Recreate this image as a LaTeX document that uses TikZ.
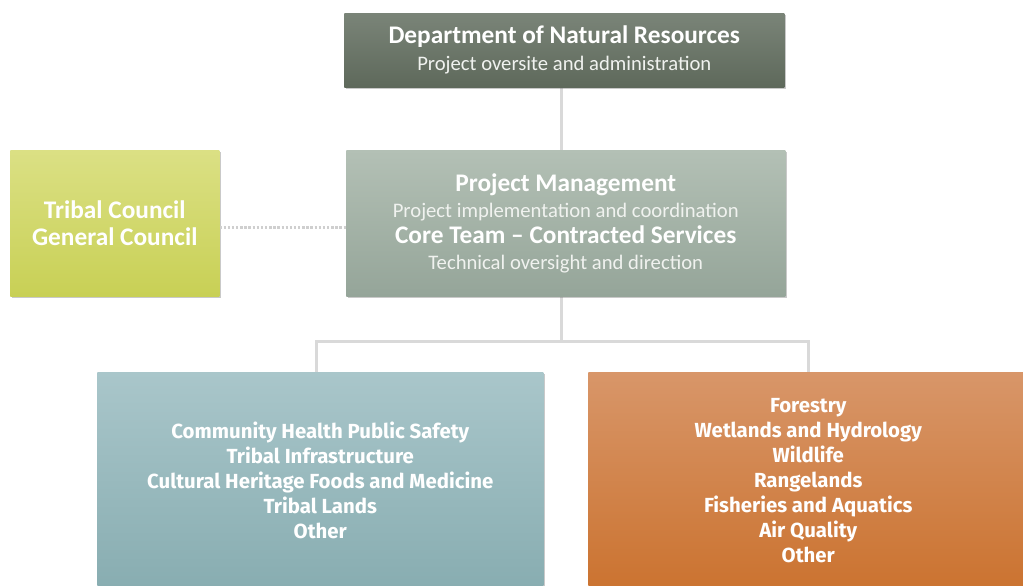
\documentclass[tikz,border=0pt]{standalone}
\usepackage{fontspec}
\setmainfont{Carlito}
\newfontfamily\firaf{Fira Sans}
\usetikzlibrary{shadows}
\definecolor{dnrTop}{HTML}{7A8478}
\definecolor{dnrBot}{HTML}{5E695B}
\definecolor{pmTop}{HTML}{B3C0B5}
\definecolor{pmBot}{HTML}{95A599}
\definecolor{tcTop}{HTML}{DBE084}
\definecolor{tcBot}{HTML}{C8D055}
\definecolor{lTop}{HTML}{A9C6CA}
\definecolor{lBot}{HTML}{88ADB1}
\definecolor{rTop}{HTML}{D89669}
\definecolor{rBot}{HTML}{CB7330}
\definecolor{connC}{HTML}{D9D9D9}
\definecolor{dotC}{HTML}{CFCFCF}
\definecolor{subC}{HTML}{F0F2EF}
\tikzset{
  box/.style={rectangle, anchor=north west, inner sep=0pt, align=center, text=white,
    drop shadow={shadow xshift=1.2pt, shadow yshift=-1.5pt, opacity=0.35, fill=black!60}},
  conn/.style={draw=connC, line width=2.25pt},
  dotline/.style={draw=dotC, line width=2.4pt, dash pattern=on 1.8pt off 1.3pt},
}
\newcommand{\ttlB}[1]{{\fontsize{19}{20}\selectfont\bfseries #1}}
\newcommand{\subt}[1]{{\fontsize{15.5}{20}\selectfont\color{subC}#1}}
\begin{document}
\begin{tikzpicture}[x=0.75pt,y=-0.75pt]
\useasboundingbox (0,0) rectangle (1023,585);
\fill[white] (0,0) rectangle (1023,585);
\clip (0,0) rectangle (1023,585);

% connectors first
\coordinate (bus) at (561,341);
\coordinate (dnrb) at (561,87);
\coordinate (pmt) at (561,150);
\coordinate (pmb) at (561,296);
\coordinate (lt) at (316,372);
\coordinate (rt) at (808,372);
\draw[conn] (dnrb) -- (pmt);
\draw[conn] (pmb) -- (bus);
\draw[conn] (bus) -| (lt);
\draw[conn] (bus) -| (rt);

\node[box, minimum width=440*0.75pt, minimum height=74*0.75pt,
  top color=dnrTop, bottom color=dnrBot, font=\fontsize{15.5}{20.25}\selectfont] (dnr) at (344,13)
  {\ttlB{Department of Natural Resources}\\
   \subt{Project oversite and administration}};

\node[box, minimum width=439*0.75pt, minimum height=146*0.75pt,
  top color=pmTop, bottom color=pmBot, font=\fontsize{15.5}{19.5}\selectfont] (pm) at (346,150)
  {\ttlB{Project Management}\\
   \subt{Project implementation and coordination}\\
   \ttlB{Core Team -- Contracted Services}\\
   \subt{Technical oversight and direction}};

\node[box, minimum width=209*0.75pt, minimum height=146*0.75pt,
  top color=tcTop, bottom color=tcBot, font=\fontsize{19}{20.3}\selectfont\bfseries] (tc) at (10,150)
  {Tribal Council\\General Council};

\node[box, minimum width=446*0.75pt, minimum height=216*0.75pt,
  top color=lTop, bottom color=lBot, font=\firaf\fontsize{15.3}{18.75}\selectfont\bfseries] (left) at (97,372)
  {Community Health Public Safety\\
   Tribal Infrastructure\\Cultural Heritage Foods and Medicine\\Tribal Lands\\Other};

\node[box, minimum width=440*0.75pt, minimum height=216*0.75pt,
  top color=rTop, bottom color=rBot, font=\firaf\fontsize{15.3}{18.75}\selectfont\bfseries] (right) at (588,372)
  {Forestry\\Wetlands and Hydrology\\Wildlife\\
   Rangelands\\Fisheries and Aquatics\\Air Quality\\Other};

\draw[dotline] ([yshift=-3pt]tc.east) -- ([yshift=-3pt]pm.west);
\end{tikzpicture}
\end{document}
